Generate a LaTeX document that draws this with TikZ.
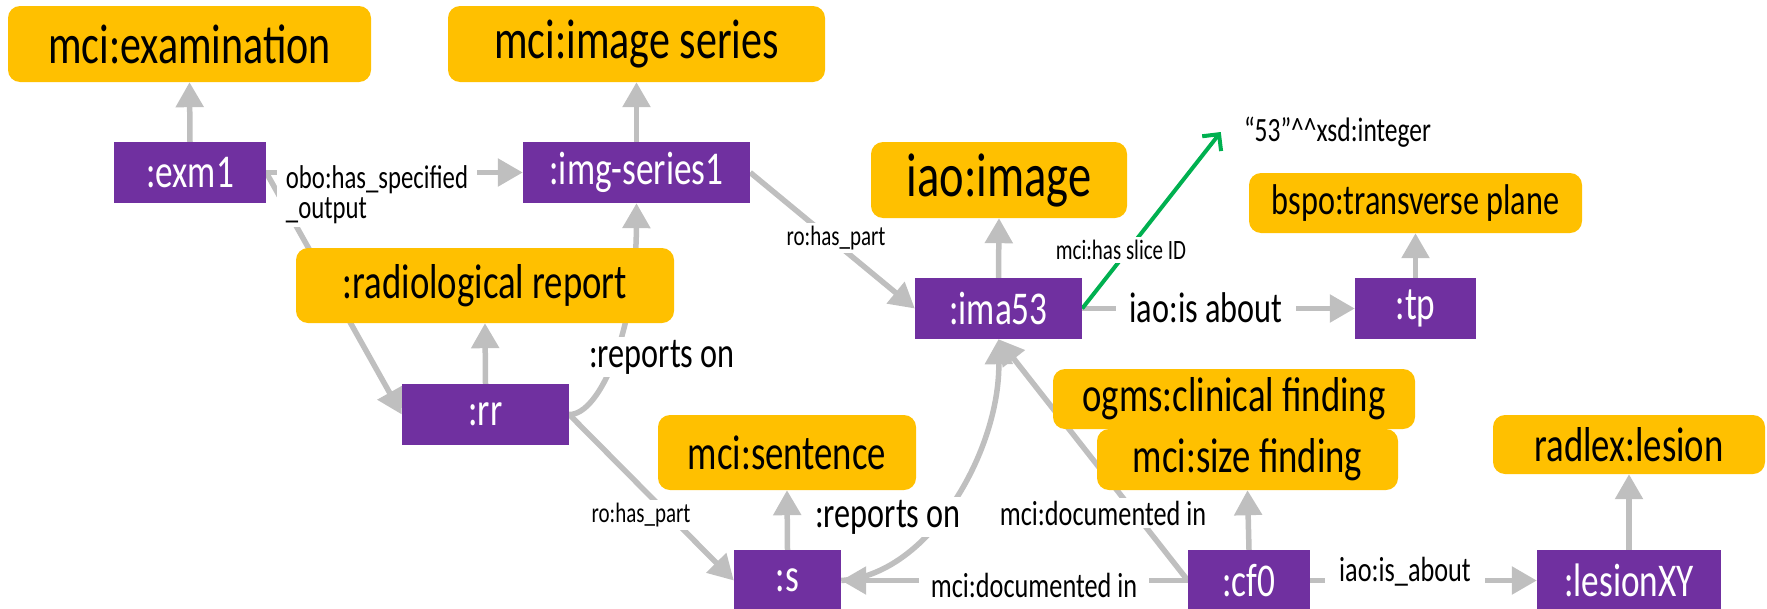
\documentclass[tikz,border=0pt]{standalone}
\usepackage{fontspec}
\setmainfont{Carlito}[FakeStretch=0.75]
\usetikzlibrary{arrows.meta}
\definecolor{ora}{HTML}{FFC000}
\definecolor{pur}{HTML}{7030A0}
\definecolor{edg}{HTML}{BFBFBF}
\definecolor{grn}{HTML}{00B050}
\pgfdeclarelayer{bg}
\pgfsetlayers{bg,main}
\newcommand{\fs}[1]{\fontsize{#1}{#1}\selectfont}
\tikzset{
 cls/.style={fill=ora, rounded corners=12pt, inner sep=0pt, text=black, font=\fs{49}},
 ind/.style={fill=pur, inner sep=0pt, text=white, minimum height=61pt, font=\fs{47}},
 rel/.style={draw=edg, line width=5.5pt, -{Triangle[length=25pt,width=27pt]}},
 lbl/.style={fill=white, inner xsep=9pt, inner ysep=3pt, text=black},
 lit/.style={draw=grn, line width=4pt, -{Straight Barb[length=12pt,width=24pt]}},
}
\begin{document}
\begin{tikzpicture}[x=1pt,y=-1pt]
\useasboundingbox (0,0) rectangle (1767,608);
% classes
\node[cls, minimum width=363pt, minimum height=76pt, font=\fs{56}] (exam) at (189.5,44) {mci:examination};
\node[cls, minimum width=377pt, minimum height=76pt, font=\fs{56}] (imgser) at (636.5,44) {mci:image series};
\node[cls, minimum width=256pt, minimum height=76pt, font=\fs{62}] (iaoimg) at (999,180) {iao:image};
\node[cls, minimum width=333pt, minimum height=60pt, font=\fs{43}] (bspo) at (1415.5,203) {bspo:transverse plane};
\node[cls, minimum width=378pt, minimum height=75pt] (radrep) at (485,285.5) {:radiological report};
\node[cls, minimum width=258pt, minimum height=75pt] (sent) at (787,452.5) {mci:sentence};
\node[cls, minimum width=362pt, minimum height=60pt] (ogms) at (1234,399) {ogms:clinical finding};
\node[cls, minimum width=301pt, minimum height=61pt] (sizef) at (1247.5,459.5) {mci:size finding};
\node[cls, minimum width=272pt, minimum height=59pt] (radlex) at (1629,444.5) {radlex:lesion};
% individuals
\node[ind, minimum width=152pt] (exm1) at (190,172.5) {:exm1};
\node[ind, minimum width=227pt] (img1) at (636.5,172.5) {:img-series1};
\node[ind, minimum width=167pt] (ima53) at (998.5,308.5) {:ima53};
\node[ind, minimum width=121pt] (tp) at (1415.5,308.5) {:tp};
\node[ind, minimum width=167pt] (rr) at (485.5,414.5) {:rr};
\node[ind, minimum width=107pt] (s) at (787.5,580.5) {:s};
\node[ind, minimum width=122pt] (cf0) at (1249,580.5) {:cf0};
\node[ind, minimum width=184pt] (lesion) at (1629,580.5) {:lesionXY};
% literal
\node[inner ysep=0pt, inner xsep=23pt, font=\fs{34}] (lit) at (1337.5,132) {“53”\textasciicircum\textasciicircum xsd:integer};
% edge labels
\node[lbl, align=left, font=\fontsize{33}{30}\selectfont] (l1) at (377,195) {obo:has\_specified\\\_output};
\node[lbl, font=\fs{28}] (l2) at (836,238) {ro:has\_part};
\node[lbl, font=\fs{43}] (l3) at (662,357) {:reports on};
\node[lbl, font=\fs{28}] (l4) at (641,515) {ro:has\_part};
\node[lbl, font=\fs{43}] (l5) at (888,517) {:reports on};
\node[lbl, font=\fs{35}] (l6) at (1103,513) {mci:documented in};
\node[lbl, inner xsep=12pt] (l7) at (1034,585) {\fs{35}mci:documented in};
\node[lbl, inner xsep=14pt, font=\fs{35}] (l8) at (1405,572) {iao:is\_about};
\node[lbl, inner xsep=14pt, font=\fs{43}] (l9) at (1206,308) {iao:is about};
\node[lbl, font=\fs{28}] (l10) at (1121,250) {mci:has slice ID};
\begin{pgfonlayer}{bg}
\draw[rel] (exm1.north) -- (exam.south);
\draw[rel] (img1.north) -- (imgser.south);
\draw[rel] (ima53.north) -- (iaoimg.south);
\draw[rel] (tp.north) -- (bspo.south);
\draw[rel] (rr.north) -- (radrep.south);
\draw[rel] (s.north) -- (sent.south);
\draw[rel] (cf0.north) -- (sizef.south);
\draw[rel] (lesion.north) -- (radlex.south);
\draw[rel] (exm1.east) -- (img1.west);
\draw[rel] (exm1.east) -- (rr.west);
\draw[rel] (img1.east) -- (ima53.west);
\draw[rel] (rr.east) .. controls (600,415) and (636,330) .. (img1.south);
\draw[rel] (rr.east) -- (s.west);
\draw[rel] (s.east) .. controls (930,575) and (1000,450) .. (ima53.south);
\draw[rel] (cf0.west) -- (s.east);
\draw[rel] (cf0.west) -- (ima53.south);
\draw[rel] (cf0.east) -- (lesion.west);
\draw[rel] (ima53.east) -- (tp.west);
\draw[lit] (ima53.east) -- (lit.west);
\end{pgfonlayer}
\end{tikzpicture}
\end{document}
